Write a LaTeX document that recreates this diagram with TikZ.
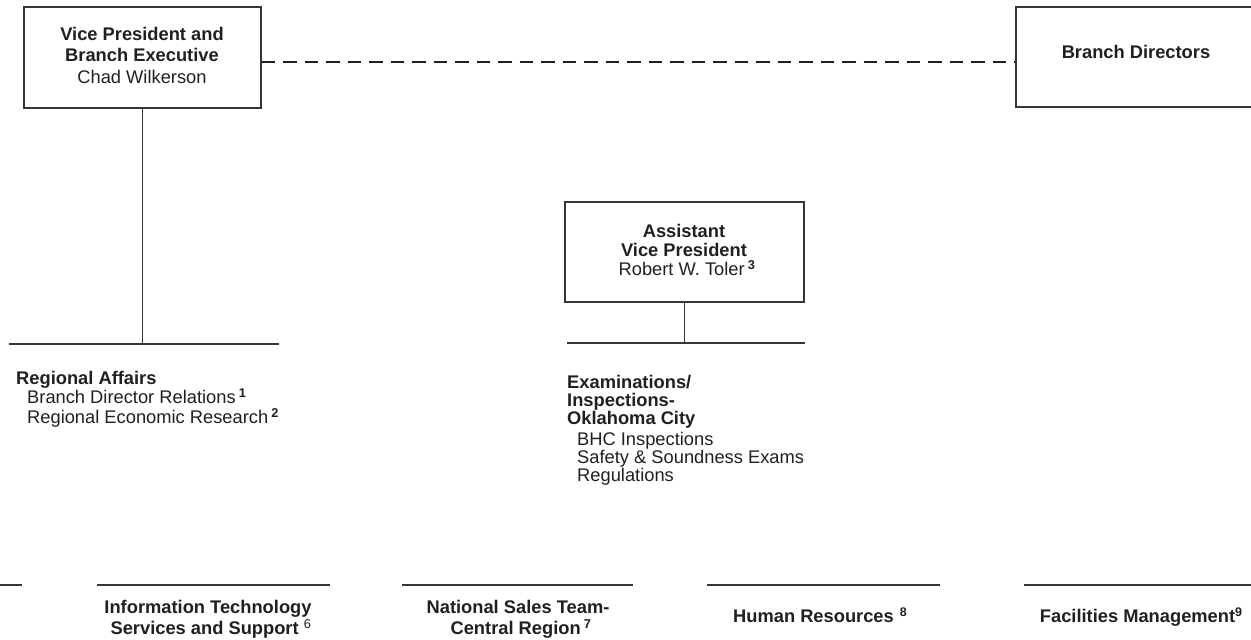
\documentclass[tikz,border=0pt]{standalone}
\usepackage{fontspec}
\setmainfont{Liberation Sans}
\definecolor{ink}{HTML}{231F20}
\newcommand{\fnote}[1]{\textsuperscript{\bfseries #1}}
\newcommand{\fhigh}[1]{\raisebox{6pt}{\fontsize{12.5}{12.5}\selectfont\bfseries #1}}
\tikzset{
  ln/.style={draw=ink!90, line width=1.15pt},
  dashln/.style={draw=ink, line width=2.6pt, dash pattern=on 13.5pt off 8pt},
  box/.style={ln, rectangle, inner sep=0pt},
  txt/.style={inner sep=0pt, text=ink, font=\fontsize{18.3}{19.5}\selectfont},
}
\begin{document}
\begin{tikzpicture}[x=1pt,y=-1pt]
\useasboundingbox[fill=white] (0,0) rectangle (1251,640);

% boxes
\node[box, minimum width=237pt, minimum height=101pt] (vp) at (142.5,57.5) {};
\node[box, minimum width=240pt, minimum height=100pt] (bd) at (1136,57) {};
\node[box, minimum width=239pt, minimum height=100pt] (avp) at (684.5,252) {};

% box texts
\node[txt, anchor=north, align=center, font=\fontsize{18.3}{21.5}\selectfont] (vpt) at (142,27)
  {\textbf{Vice President and}\\\textbf{Branch Executive}\\Chad Wilkerson};
\node[txt, anchor=base] (bdt) at (1136,58) {\textbf{Branch Directors}};
\node[txt, anchor=north, align=center, font=\fontsize{18.3}{19}\selectfont] (avpt) at (684,224)
  {\textbf{Assistant}\\\textbf{Vice President}\\\hspace*{6pt}Robert W. Toler\,\fnote{3}};

% dashed link
\coordinate (dl) at (0,62);
\draw[dashln] (vp.east |- dl) -- (bd.west |- dl);

% VP branch
\coordinate (h1l) at (9,344);
\coordinate (h1r) at (279,344);
\draw[ln] (h1l) -- (h1r);
\draw[ln] (vp.south) -- (vp.south |- h1l);

% AVP branch
\coordinate (h2l) at (567,343);
\coordinate (h2r) at (805,343);
\draw[ln] (h2l) -- (h2r);
\draw[ln] (avp.south) -- (avp.south |- h2l);

% unit texts
\node[txt, anchor=north west, align=left] (ra) at (16,371)
  {\textbf{Regional Affairs}\\
   \hspace*{11pt}Branch Director Relations\,\fnote{1}\\
   \hspace*{11pt}Regional Economic Research\,\fnote{2}};
\node[txt, anchor=north west, align=left, font=\fontsize{18.3}{18}\selectfont] (ex) at (567,375)
  {\textbf{Examinations/}\\\textbf{Inspections-}\\\textbf{Oklahoma City}\\[3pt]
   \hspace*{10pt}BHC Inspections\\
   \hspace*{10pt}Safety \& Soundness Exams\\
   \hspace*{10pt}Regulations};

% bottom row lines
\coordinate (b0l) at (-5,585);  \coordinate (b0r) at (22,585);
\coordinate (b1l) at (97,585);  \coordinate (b1r) at (330,585);
\coordinate (b2l) at (402,585); \coordinate (b2r) at (633,585);
\coordinate (b3l) at (707,585); \coordinate (b3r) at (940,585);
\coordinate (b4l) at (1024,585);\coordinate (b4r) at (1260,585);
\draw[ln] (b0l) -- (b0r);
\draw[ln] (b1l) -- (b1r);
\draw[ln] (b2l) -- (b2r);
\draw[ln] (b3l) -- (b3r);
\draw[ln] (b4l) -- (b4r);

% bottom row texts
\node[txt, anchor=north, align=center, font=\fontsize{18.3}{21}\selectfont\bfseries] (it) at (208,600)
  {Information Technology\\\hspace*{6pt}Services and Support \textsuperscript{\mdseries 6}};
\node[txt, anchor=north, align=center, font=\fontsize{18.3}{21}\selectfont\bfseries] (nst) at (518,600)
  {National Sales Team-\\\hspace*{6pt}Central Region\,\fnote{7}};
\node[txt, anchor=base, font=\fontsize{18.3}{21}\selectfont\bfseries] (hr) at (820,622)
  {Human Resources\hspace{6pt}\fhigh{8}};
\node[txt, anchor=base, font=\fontsize{18.3}{21}\selectfont\bfseries] (fm) at (1141,622)
  {Facilities Management\fhigh{9}};
\end{tikzpicture}
\end{document}
